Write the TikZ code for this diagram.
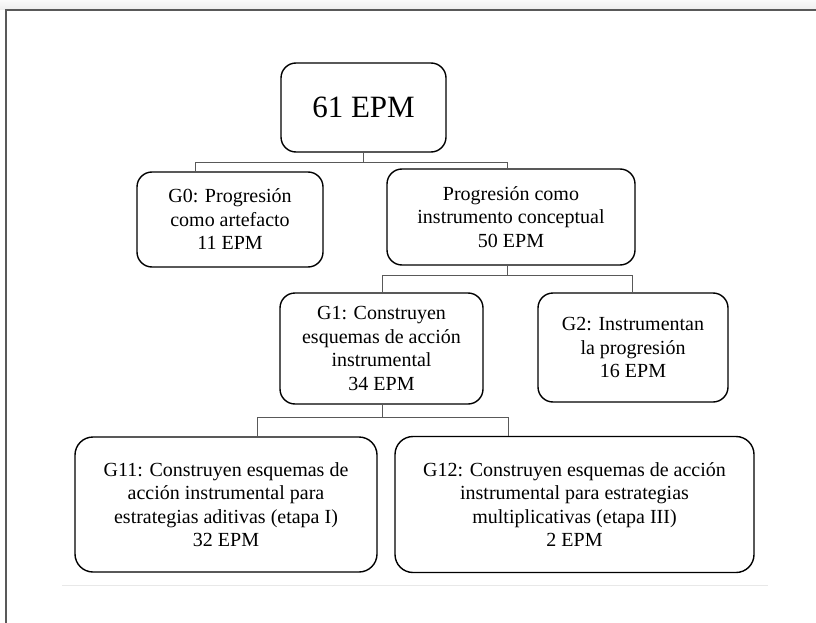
\documentclass[tikz,border=0pt]{standalone}
\usepackage{fontspec}
\setmainfont{Liberation Serif}
\begin{document}
\begin{tikzpicture}[x=1pt,y=-1pt,
  box/.style={draw=black, line width=1.4pt, rounded corners=15pt, fill=white,
    align=center, inner sep=0pt, font=\fontsize{20}{23.5}\selectfont},
  bigbox/.style={box, rounded corners=18pt},
  conn/.style={draw=black!65, line width=0.8pt}]
\useasboundingbox (0,0) rectangle (816,623);
% window frame
\shade[top color=gray!4, bottom color=gray!14] (0,0) rectangle (816,10);
\draw[black!65, line width=1.5pt] (6,623) -- (6,10) -- (816,10);
\draw[gray!18, line width=1pt] (62,585) -- (768,585);
% nodes
\node[box, minimum width=165pt, minimum height=89pt, font=\fontsize{31}{36}\selectfont] (root) at (363.5,107.5) {61 EPM};
\node[box, minimum width=186pt, minimum height=95pt] (g0) at (230,219.5) {G0: Progresión\\como artefacto\\11 EPM};
\node[box, minimum width=248pt, minimum height=96pt] (pc) at (511,217) {Progresión como\\instrumento conceptual\\50 EPM};
\node[box, minimum width=203pt, minimum height=111pt] (g1) at (381.5,348.5) {G1: Construyen\\esquemas de acción\\instrumental\\34 EPM};
\node[box, minimum width=190pt, minimum height=109pt] (g2) at (633,347.5) {G2: Instrumentan\\la progresión\\16 EPM};
\node[bigbox, minimum width=302pt, minimum height=135pt] (g11) at (226,504.5) {G11: Construyen esquemas de\\acción instrumental para\\estrategias aditivas (etapa I)\\32 EPM};
\node[bigbox, minimum width=359pt, minimum height=136pt] (g12) at (574.5,504.5) {G12: Construyen esquemas de acción\\instrumental para estrategias\\multiplicativas (etapa III)\\2 EPM};
% connector corners
\coordinate (a1) at (195,162);
\coordinate (a2) at (507,162);
\coordinate (am) at (363,162);
\coordinate (b1) at (382,275);
\coordinate (b2) at (632,275);
\coordinate (bm) at (507,275);
\coordinate (c1) at (257,417);
\coordinate (c2) at (508,417);
\coordinate (cm) at (382,417);
% connectors
\draw[conn] (root.south -| am) -- (am);
\draw[conn] (g0.north -| a1) -- (a1) -- (a2) -- (pc.north -| a2);
\draw[conn] (pc.south -| bm) -- (bm);
\draw[conn] (g1.north -| b1) -- (b1) -- (b2) -- (g2.north -| b2);
\draw[conn] (g1.south -| cm) -- (cm);
\draw[conn] (g11.north -| c1) -- (c1) -- (c2) -- (g12.north -| c2);
\end{tikzpicture}
\end{document}
